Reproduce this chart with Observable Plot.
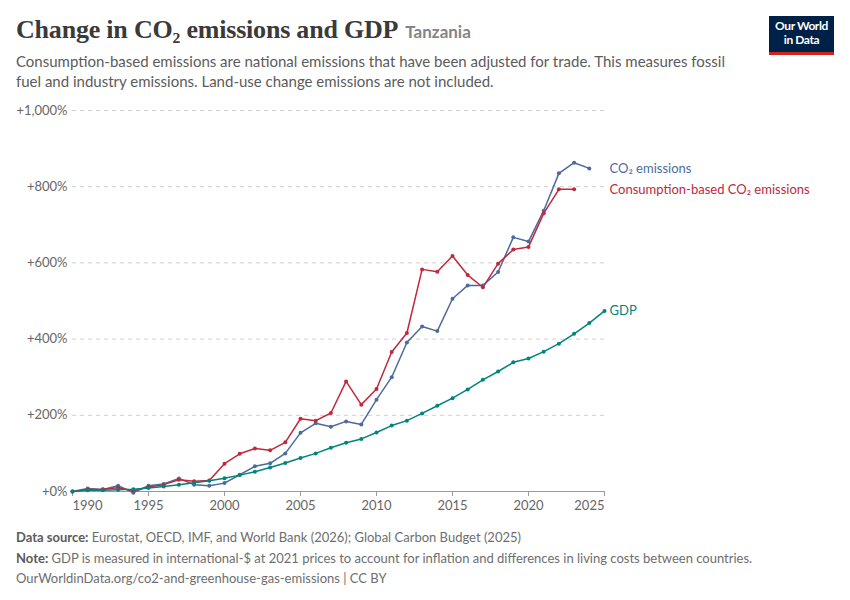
<!DOCTYPE html>
<html>
<head>
<meta charset="utf-8">
<script src="https://cdn.jsdelivr.net/npm/d3@7"></script>
<script src="https://cdn.jsdelivr.net/npm/@observablehq/plot@0.6"></script>
<style>
  body { margin: 0; background: #fff; font-family: Lato, "Noto Sans", sans-serif; }
  #wrap { position: relative; width: 850px; height: 600px; overflow: hidden; }
  #title { position: absolute; left: 16px; top: 15px; font-family: "Liberation Serif", "DejaVu Serif", serif; font-weight: bold; font-size: 26px; color: #3a3a3a; white-space: nowrap; letter-spacing: -0.2px; }
  #title .ent { font-family: Lato, sans-serif; font-weight: bold; font-size: 17px; color: #858585; letter-spacing: 0; margin-left: 7px; }
  #subtitle { position: absolute; left: 16px; top: 51px; font-size: 15px; line-height: 20px; color: #5b5b5b; white-space: nowrap; }
  #logo { position: absolute; left: 769px; top: 16px; width: 65px; height: 33px; background: #002147; border-bottom: 3px solid #ce261e; color: #fff; font-size: 12px; font-weight: bold; line-height: 13.5px; text-align: center; padding-top: 3px; box-sizing: content-box; letter-spacing: -0.4px; }
  #chart { position: absolute; left: 0; top: 100px; }
  #footer { position: absolute; left: 16px; top: 527px; font-size: 13px; line-height: 20.5px; color: #6e6e6e; white-space: nowrap; }
  #footer b { color: #5b5b5b; }
</style>
</head>
<body>
<div id="wrap">
  <div id="title">Change in CO₂ emissions and GDP<span class="ent">Tanzania</span></div>
  <div id="subtitle">Consumption-based emissions are national emissions that have been adjusted for trade. This measures fossil<br>fuel and industry emissions. Land-use change emissions are not included.</div>
  <div id="logo">Our World<br>in Data</div>
  <div id="chart"></div>
  <div id="footer">
    <div><b>Data source:</b> Eurostat, OECD, IMF, and World Bank (2026); Global Carbon Budget (2025)</div>
    <div><b>Note:</b> GDP is measured in international-$ at 2021 prices to account for inflation and differences in living costs between countries.</div>
    <div>OurWorldinData.org/co2-and-greenhouse-gas-emissions | CC BY</div>
  </div>
</div>
<script>
const seriesNames = ["CO₂ emissions", "Consumption-based CO₂ emissions", "GDP"];
const seriesColors = ["#4c6a9c", "#c0283b", "#00847e"];

const co2Start = 1990;
const co2Values = [0, 8, 5, 15, -3, 15, 20, 34, 18, 15, 22, 44, 66, 74, 100, 154, 179, 170, 184, 176,
  241, 300, 391, 433, 421, 506, 541, 541, 576, 667, 656, 737, 835, 863, 848];

const consStart = 1990;
const consValues = [0, 5, 6, 10, 2, 12, 18, 31, 27, 29, 73, 99, 113, 108, 129, 191, 186, 206, 289, 228,
  269, 366, 416, 583, 577, 618, 568, 536, 598, 635, 642, 730, 793, 793];

const gdpStart = 1990;
const gdpValues = [0, 3, 3.5, 4.5, 6, 9, 13, 18, 23, 28, 35, 43, 52, 63, 75, 88, 100, 115, 128, 138,
  155, 173, 186, 205, 225, 245, 268, 293, 315, 339, 349, 367, 388, 414, 442, 474];

const xTicks = [1990, 1995, 2000, 2005, 2010, 2015, 2020, 2025];
const yTicks = [0, 200, 400, 600, 800, 1000];

function toRows(name, start, vals) {
  return vals.map((v, i) => ({series: name, year: start + i, value: v}));
}
const rows = [
  ...toRows(seriesNames[0], co2Start, co2Values),
  ...toRows(seriesNames[1], consStart, consValues),
  ...toRows(seriesNames[2], gdpStart, gdpValues)
];
const lastPoints = [
  {series: seriesNames[0], value: co2Values[co2Values.length - 1]},
  {series: seriesNames[1], value: consValues[consValues.length - 1]},
  {series: seriesNames[2], value: gdpValues[gdpValues.length - 1]}
];
const labelYear = xTicks[xTicks.length - 1];

const fmtY = d => "+" + d3.format(",")(d) + "%";

const chart = Plot.plot({
  width: 850,
  height: 420,
  marginLeft: 72,
  marginRight: 246,
  marginTop: 10,
  marginBottom: 29,
  style: {fontFamily: "Lato, sans-serif", fontSize: "13px", background: "transparent"},
  x: {domain: [1990, 2025]},
  y: {domain: [0, 1000]},
  color: {domain: seriesNames, range: seriesColors},
  marks: [
    Plot.gridY(yTicks.filter(d => d > 0), {stroke: "#d0d0d0", strokeOpacity: 1, strokeDasharray: "4,4"}),
    Plot.axisY(yTicks, {tickSize: 0, tickPadding: 5, tickFormat: fmtY, fill: "#666", fontSize: 13, label: null}),
    Plot.ruleY([0], {stroke: "#999"}),
    Plot.axisX(xTicks.slice(1, -1), {tickSize: 5, tickPadding: 4, stroke: "#999", fill: "#666", fontSize: 13, tickFormat: d => String(d), label: null}),
    Plot.axisX([xTicks[0]], {tickSize: 5, tickPadding: 4, stroke: "#999", fill: "#666", fontSize: 13, textAnchor: "start", tickFormat: d => String(d), label: null}),
    Plot.axisX([xTicks[xTicks.length - 1]], {tickSize: 5, tickPadding: 4, stroke: "#999", fill: "#666", fontSize: 13, textAnchor: "end", tickFormat: d => String(d), label: null}),
    Plot.line(rows, {x: "year", y: "value", stroke: "series", z: "series", strokeWidth: 1.5}),
    Plot.dot(rows, {x: "year", y: "value", fill: "series", r: 2}),
    Plot.text(lastPoints, {x: () => labelYear, y: "value", text: "series", fill: "series", textAnchor: "start", dx: 5, fontSize: 13})
  ]
});
document.getElementById("chart").appendChild(chart);
</script>
</body>
</html>
